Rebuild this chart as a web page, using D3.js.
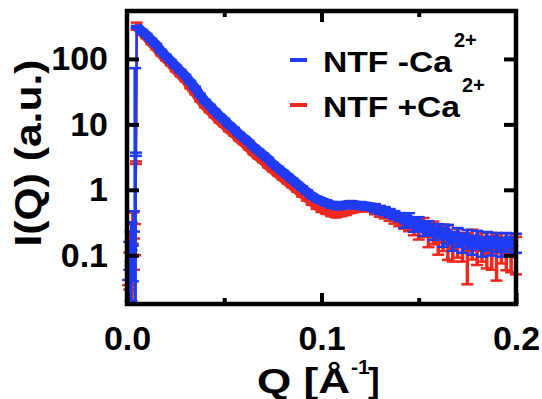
<!DOCTYPE html>
<html>
<head>
<meta charset="utf-8">
<script src="https://cdn.jsdelivr.net/npm/d3@7"></script>
<style>
  body { margin: 0; background: #fff; }
  svg { display: block; font-family: "Liberation Sans", Arial, sans-serif; font-weight: bold; }
</style>
</head>
<body>
<svg id="chart" width="542" height="399"></svg>
<script>
// scattering vector Q (1/Angstrom), shared by both curves
const q = [0.0006, 0.0012, 0.0018, 0.0024, 0.003, 0.0036, 0.0042, 0.0046,
  0.005, 0.0075, 0.01, 0.0125, 0.015, 0.0175, 0.02, 0.0225, 0.025, 0.0275,
  0.03, 0.0325, 0.035, 0.0375, 0.04, 0.0425, 0.045, 0.0475, 0.05, 0.0525,
  0.055, 0.0575, 0.06, 0.0625, 0.065, 0.0675, 0.07, 0.0725, 0.075, 0.0775,
  0.08, 0.0825, 0.085, 0.0875, 0.09, 0.0925, 0.095, 0.0975, 0.1, 0.1025,
  0.105, 0.1075, 0.11, 0.1125, 0.115, 0.1175, 0.12, 0.1225, 0.125, 0.1275,
  0.13, 0.1325, 0.135, 0.1375, 0.14, 0.1425, 0.145, 0.1475, 0.15, 0.1525,
  0.155, 0.1575, 0.16, 0.1625, 0.165, 0.1675, 0.17, 0.1725, 0.175, 0.1775,
  0.18, 0.1825, 0.185, 0.1875, 0.19, 0.1925, 0.195, 0.1975, 0.2];

// NTF -Ca2+ (blue)
const blueI = [0.03, 0.11, 0.05, 0.22, 0.09, 0.35, 0.25, 3.5,
  308, 268, 232, 195, 164, 132, 111, 93, 78, 65.6,
  55, 44.6, 36.1, 28.2, 22.8, 19.2, 16.1, 13.5, 11.7, 9.8,
  8.5, 7.16, 6.22, 5.40, 4.53, 3.94, 3.42, 2.97, 2.49, 2.17,
  1.88, 1.64, 1.42, 1.23, 1.07, 0.932, 0.810, 0.729, 0.679, 0.633,
  0.590, 0.570, 0.570, 0.590, 0.590, 0.590, 0.570, 0.570, 0.550, 0.531,
  0.495, 0.478, 0.446, 0.415, 0.387, 0.336, 0.361, 0.292, 0.313, 0.254,
  0.272, 0.221, 0.245, 0.198, 0.221, 0.172, 0.198, 0.161, 0.185, 0.150,
  0.179, 0.140, 0.172, 0.145, 0.166, 0.140, 0.166, 0.145, 0.161];
const blueErr = [0.012, 0.05, 0.03, 0.1, 0.05, 0.12, 72, 0.2,
  12, 11, 9, 8, 6.6, 5.3, 4.4, 3.7, 3.1, 2.6,
  2.2, 1.8, 1.4, 1.1, 0.9, 0.77, 0.64, 0.54, 0.47, 0.39,
  0.34, 0.29, 0.25, 0.22, 0.18, 0.16, 0.14, 0.12, 0.10, 0.087,
  0.075, 0.066, 0.057, 0.049, 0.064, 0.056, 0.049, 0.044, 0.041, 0.057,
  0.053, 0.051, 0.051, 0.053, 0.053, 0.053, 0.051, 0.051, 0.050, 0.074,
  0.069, 0.067, 0.062, 0.058, 0.054, 0.074, 0.079, 0.064, 0.069, 0.056,
  0.060, 0.049, 0.054, 0.063, 0.071, 0.055, 0.063, 0.052, 0.059, 0.048,
  0.057, 0.045, 0.055, 0.046, 0.053, 0.045, 0.053, 0.046, 0.052];

// NTF +Ca2+ (red)
const redI = [0.025, 0.07, 0.15, 0.04, 0.3, 0.12, 0.2, 2.6,
  319, 258, 217, 176, 147, 119, 100, 83.9, 67.9, 57,
  47.8, 37.4, 30.3, 23.7, 19.2, 16.1, 13.5, 11.3, 9.8, 8.24,
  7.16, 6.0, 5.22, 4.38, 3.67, 3.19, 2.77, 2.32, 2.02, 1.75,
  1.52, 1.32, 1.15, 1.0, 0.869, 0.755, 0.656, 0.570, 0.513, 0.478,
  0.446, 0.430, 0.446, 0.461, 0.495, 0.513, 0.531, 0.531, 0.550, 0.513,
  0.478, 0.446, 0.415, 0.374, 0.348, 0.325, 0.303, 0.282, 0.254, 0.282,
  0.213, 0.237, 0.172, 0.206, 0.185, 0.140, 0.172, 0.150, 0.126, 0.166,
  0.131, 0.150, 0.113, 0.140, 0.121, 0.145, 0.109, 0.135, 0.121];
const redErr = [0.01, 0.04, 0.08, 0.02, 0.15, 0.06, 0.1, 0.12,
  40, 12, 10, 8, 7, 5.6, 4.7, 4, 3.2, 2.7,
  2.3, 1.8, 1.5, 1.15, 0.93, 0.78, 0.66, 0.55, 0.48, 0.40,
  0.35, 0.3, 0.26, 0.22, 0.18, 0.16, 0.14, 0.12, 0.10, 0.09,
  0.08, 0.07, 0.06, 0.06, 0.08, 0.07, 0.065, 0.06, 0.055, 0.05,
  0.05, 0.05, 0.05, 0.05, 0.05, 0.05, 0.05, 0.06, 0.06, 0.09,
  0.09, 0.08, 0.08, 0.07, 0.07, 0.07, 0.07, 0.08, 0.08, 0.09,
  0.08, 0.09, 0.07, 0.09, 0.1, 0.06, 0.08, 0.07, 0.09, 0.08,
  0.06, 0.07, 0.05, 0.08, 0.08, 0.07, 0.05, 0.08, 0.07];

const yTicks = [0.1, 1, 10, 100];
const xTicks = [0, 0.1, 0.2];
const xMinor = [0.05, 0.15];

const blue = "#1f3cf2";
const red = "#f0281e";

const svg = d3.select("#chart");

const x = d3.scaleLinear().domain([0, 0.2]).range([127, 516]);
const y = d3.scaleLog().domain([0.018, 540]).range([304, 11]);

const series = [
  { color: red, I: redI, err: redErr },
  { color: blue, I: blueI, err: blueErr }
];

// curves with error bars, red underneath
const line = d3.line().x(d => x(d.q)).y(d => y(d.I));
const cap = 6;
const nBeamstop = 8; // points behind the beamstop, drawn thin
series.forEach(s => {
  const pts = q.map((v, i) => ({ q: v, I: s.I[i], e: s.err[i] }));
  const g = svg.append("g");

  g.append("path")
    .datum(pts.slice(0, nBeamstop + 1))
    .attr("d", line)
    .attr("fill", "none")
    .attr("stroke", s.color)
    .attr("stroke-width", 2.5);

  pts.forEach(d => {
    const cx = x(d.q);
    const lowClipped = d.I - d.e <= y.domain()[0];
    const yHi = y(d.I + d.e);
    const yLo = lowClipped ? y.range()[0] : y(d.I - d.e);
    g.append("line")
      .attr("x1", cx).attr("x2", cx)
      .attr("y1", yHi).attr("y2", yLo)
      .attr("stroke", s.color).attr("stroke-width", 3.5);
    g.append("line")
      .attr("x1", cx - cap).attr("x2", cx + cap)
      .attr("y1", yHi).attr("y2", yHi)
      .attr("stroke", s.color).attr("stroke-width", 2.5);
    if (!lowClipped) {
      g.append("line")
        .attr("x1", cx - cap).attr("x2", cx + cap)
        .attr("y1", yLo).attr("y2", yLo)
        .attr("stroke", s.color).attr("stroke-width", 2.5);
    }
  });

  g.append("path")
    .datum(pts.slice(nBeamstop))
    .attr("d", line)
    .attr("fill", "none")
    .attr("stroke", s.color)
    .attr("stroke-width", 10)
    .attr("stroke-linejoin", "round");
});

// frame
svg.append("rect")
  .attr("x", 127).attr("y", 11)
  .attr("width", 389).attr("height", 293)
  .attr("fill", "none")
  .attr("stroke", "#000")
  .attr("stroke-width", 4.5);

function styleAxis(g) {
  g.select(".domain").remove();
  g.selectAll(".tick line").attr("stroke", "#000").attr("stroke-width", 4);
  g.selectAll("text")
    .attr("fill", "#000")
    .style("font-family", "'Liberation Sans', Arial, sans-serif")
    .style("font-weight", "bold")
    .style("font-size", "34px");
}

svg.append("g")
  .attr("transform", "translate(127,0)")
  .call(d3.axisLeft(y).tickValues(yTicks).tickSize(-12).tickPadding(19)
    .tickFormat(d => d < 1 ? d.toFixed(1) : String(d)))
  .call(styleAxis);

svg.append("g")
  .attr("transform", "translate(516,0)")
  .call(d3.axisRight(y).tickValues(yTicks).tickSize(-12).tickFormat(""))
  .call(styleAxis);

svg.append("g")
  .attr("transform", "translate(0,304)")
  .call(d3.axisBottom(x).tickValues(xTicks).tickSize(-11).tickPadding(22)
    .tickFormat(d3.format(".1f")))
  .call(styleAxis);

svg.append("g")
  .attr("transform", "translate(0,304)")
  .call(d3.axisBottom(x).tickValues(xMinor).tickSize(-6).tickFormat(""))
  .call(styleAxis);

svg.append("g")
  .attr("transform", "translate(0,11)")
  .call(d3.axisTop(x).tickValues(xTicks.slice(1, 2)).tickSize(-11).tickFormat(""))
  .call(styleAxis);

svg.append("g")
  .attr("transform", "translate(0,11)")
  .call(d3.axisTop(x).tickValues(xMinor).tickSize(-6).tickFormat(""))
  .call(styleAxis);

// axis titles
svg.append("text")
  .attr("transform", "translate(41,153) rotate(-90)")
  .attr("text-anchor", "middle")
  .attr("textLength", 187)
  .attr("lengthAdjust", "spacingAndGlyphs")
  .style("font-size", "36px")
  .text("I(Q) (a.u.)");

svg.append("text")
  .attr("x", 257).attr("y", 393)
  .attr("textLength", 93)
  .attr("lengthAdjust", "spacingAndGlyphs")
  .style("font-size", "35px")
  .text("Q [Å");
svg.append("text")
  .attr("x", 351).attr("y", 374)
  .style("font-size", "21px")
  .text("-1");
svg.append("text")
  .attr("x", 368).attr("y", 393)
  .style("font-size", "35px")
  .text("]");

// legend
const legend = [
  { label: "NTF -Ca", color: blue, y: 72, len: 129 },
  { label: "NTF +Ca", color: red, y: 117, len: 137 }
];
legend.forEach(d => {
  svg.append("line")
    .attr("x1", 290).attr("x2", 307)
    .attr("y1", d.y - 12).attr("y2", d.y - 12)
    .attr("stroke", d.color).attr("stroke-width", 4);
  svg.append("text")
    .attr("x", 323).attr("y", d.y)
    .attr("textLength", d.len)
    .attr("lengthAdjust", "spacingAndGlyphs")
    .style("font-size", "29px")
    .text(d.label);
  svg.append("text")
    .attr("x", 323 + d.len + 2).attr("y", d.y - 25)
    .style("font-size", "20px")
    .text("2+");
});
</script>
</body>
</html>
